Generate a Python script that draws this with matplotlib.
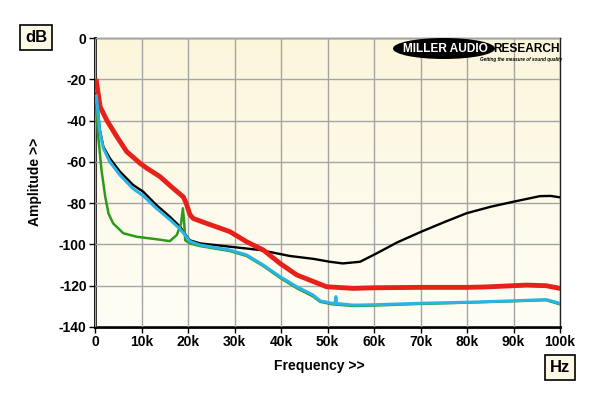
import numpy as np
import matplotlib
matplotlib.use("Agg")
import matplotlib.pyplot as plt
from matplotlib.patches import Ellipse

plt.rcParams['font.family'] = ['Liberation Sans', 'DejaVu Sans']

# ---- data (frequency in kHz, level in dB) ----
black_f = [0.3, 1.0, 1.8, 3.2, 5.4, 8.2, 10.4, 13.2, 16.1, 18.3, 19.7, 20.4, 22.6, 29, 35.5,
           41.9, 47, 50.5, 53.3, 57, 60.6, 65, 70.2, 75, 79.9, 85, 90, 95.7, 98, 100]
black_db = [-27, -44, -52.7, -58.3, -64.8, -71.2, -74.5, -80.9, -86.6, -91.4, -96, -98, -99.5,
            -101.1, -102.7, -105.6, -107, -108.4, -109.2, -108.4, -104.3, -99, -93.8, -89.3,
            -84.9, -81.8, -79.3, -76.6, -76.5, -77.2]

cyan_f = [0.3, 1.0, 1.8, 3.2, 5.4, 8.2, 10.4, 13.2, 16.1, 18.3, 20.4, 22.6, 29, 32.6, 36.2,
          39.8, 43.4, 46.9, 48.4, 51, 51.6, 51.8, 52.0, 55.6, 60, 70, 80, 90, 97, 100]
cyan_db = [-28, -45, -53.5, -60, -66.5, -73, -76.5, -82.5, -88, -92.5, -98.5, -100.3, -102.7,
           -105.1, -110, -115.6, -120.5, -124.5, -127.3, -128.5, -128.6, -125.3, -128.6,
           -129.4, -129.2, -128.5, -128, -127.3, -126.7, -128.5]

green_f = [0.2, 0.7, 1.4, 2.2, 2.9, 3.9, 6.1, 9, 13.3, 16.1, 17.6, 18.5, 18.9, 19.2, 19.4,
           20.4, 22.6, 29, 32.6, 36.2, 39.8, 43.4, 46.9, 48.4, 51, 55.6, 60, 70, 80, 90, 97, 100]
green_db = [-32, -47.8, -64, -76.9, -85, -89.8, -94.6, -96.3, -97.5, -98.4, -95.4, -90, -82.5,
            -90, -98, -99.5, -100.8, -103.2, -105.6, -110.5, -116.2, -121.2, -125.2, -127.8,
            -129, -129.8, -129.6, -128.8, -128.2, -127.5, -127, -129]

red_f = [0.3, 1.1, 2.5, 4.7, 6.8, 9.7, 11.1, 14.0, 16.8, 19.0, 19.6, 20.4, 21.1, 24, 29, 32.6,
         36.2, 39.8, 43.4, 47, 49.8, 55.6, 60, 70, 80, 84, 92.8, 97, 100]
red_db = [-21, -33.3, -39.7, -47.8, -55, -60.7, -63, -67.2, -72.8, -77, -80, -85.5, -87.4,
          -89.8, -93.8, -98.7, -102.7, -109.2, -114.8, -118, -120.5, -121.3, -121, -120.8,
          -120.8, -120.6, -119.7, -120, -121.3]

xticks_k = [0, 10, 20, 30, 40, 50, 60, 70, 80, 90, 100]
xtick_labels = ['0', '10k', '20k', '30k', '40k', '50k', '60k', '70k', '80k', '90k', '100k']
yticks = [0, -20, -40, -60, -80, -100, -120, -140]

# ---- figure ----
fig = plt.figure(figsize=(6.0, 3.96), dpi=100)
ax = fig.add_axes([95/600, 1-327/396, 465/600, 289/396])

# cream gradient background
grad = np.linspace(0, 1, 256).reshape(-1, 1)
top = np.array([0.985, 0.965, 0.86])
bot = np.array([1.0, 0.995, 0.965])
img = top[None, None, :] * (1 - grad[:, :, None]) + bot[None, None, :] * grad[:, :, None]
ax.imshow(img, extent=[0, 100, -140, 0], aspect='auto', origin='upper', zorder=0)

ax.set_xlim(0, 100)
ax.set_ylim(-140, 0)
ax.set_xticks(xticks_k)
ax.set_xticklabels(xtick_labels)
ax.set_yticks(yticks)
ax.set_yticklabels([str(v) for v in yticks])
ax.grid(True, color='#a4a4a4', linewidth=1.0, zorder=1)
ax.set_axisbelow(False)

ax.plot(black_f, black_db, color='#000000', lw=1.7, zorder=3)
ax.plot(red_f, red_db, color='#e8201a', lw=3.5, zorder=4)
ax.plot(green_f, green_db, color='#2c9a1a', lw=1.8, zorder=5)
ax.plot(cyan_f, cyan_db, color='#2ab4e6', lw=2.2, zorder=6)

for s in ['left', 'bottom']:
    ax.spines[s].set_linewidth(2.0)
    ax.spines[s].set_color('black')
for s in ['top', 'right']:
    ax.spines[s].set_linewidth(1.0)
    ax.spines[s].set_color('#222222')

ax.tick_params(axis='both', direction='out', length=4, width=1, colors='black',
               labelsize=10, pad=2)
for lab in ax.get_xticklabels() + ax.get_yticklabels():
    lab.set_fontweight('bold')

fig.text(35/600, 1-182/396, 'Amplitude >>', rotation=90, ha='center', va='center',
         fontsize=10, fontweight='bold')
fig.text(319/600, 1-366/396, 'Frequency >>', ha='center', va='center',
         fontsize=10, fontweight='bold')

boxprops = dict(boxstyle='square,pad=0.3', facecolor='#fbf8e4', edgecolor='black', linewidth=1.2)
fig.text(36/600, 1-37/396, 'dB', ha='center', va='center', fontsize=12, fontweight='bold',
         bbox=boxprops)
fig.text(560/600, 1-367/396, 'Hz', ha='center', va='center', fontsize=12, fontweight='bold',
         bbox=boxprops)

# logo
lax = fig.add_axes([0, 0, 1, 1], facecolor='none')
lax.set_xlim(0, 600)
lax.set_ylim(396, 0)
lax.axis('off')
lax.add_patch(Ellipse((444, 48.5), 102, 21, facecolor='black', edgecolor='none'))
lax.text(445, 48.5, 'MILLER AUDIO', color='white', fontsize=8.6, fontweight='heavy',
         ha='center', va='center')
lax.text(526, 48.5, 'RESEARCH', color='black', fontsize=8.6, fontweight='heavy',
         ha='center', va='center')
lax.text(521, 59.5, 'Getting the measure of sound quality', color='black', fontsize=3.3,
         fontweight='bold', style='italic', ha='center', va='center')

fig.savefig('out.png', dpi=100)
